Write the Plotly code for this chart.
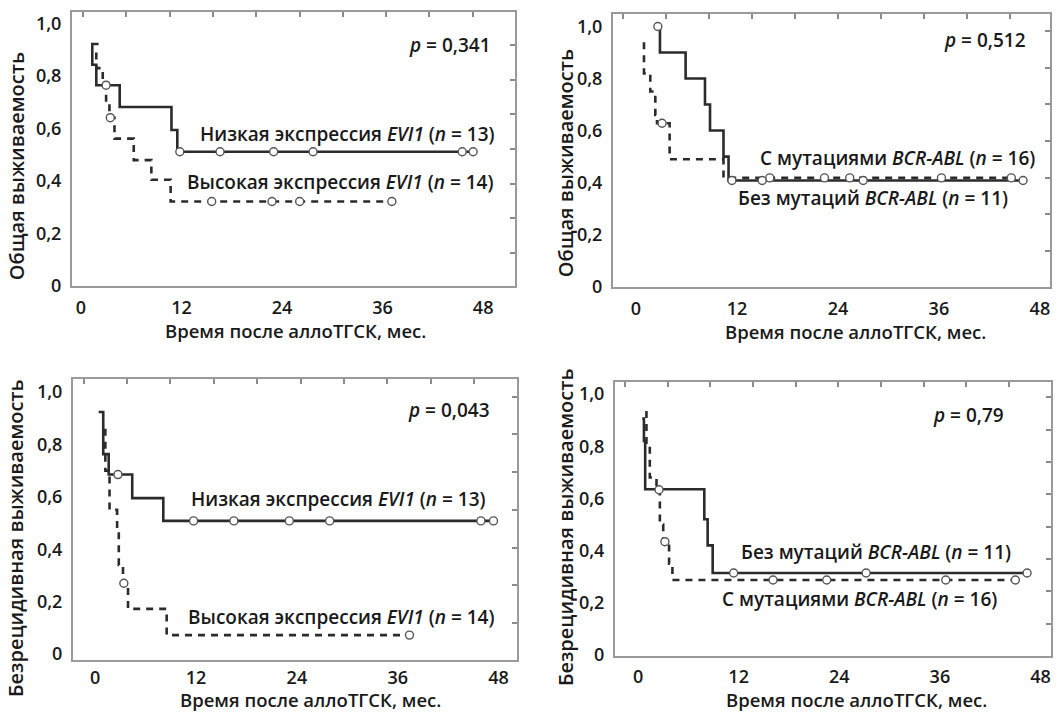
import plotly.graph_objects as go

W, H = 1059, 721

# ---------------- data (months, survival probability) ----------------
# Panel A: overall survival, EVI1 expression
a_low_x = [2.1, 1.35, 1.35, 1.83, 1.83, 4.62, 4.62, 10.8, 10.8, 11.5, 11.5, 46.8]
a_low_y = [0.922, 0.922, 0.843, 0.843, 0.765, 0.765, 0.682, 0.682, 0.594, 0.594, 0.511, 0.511]
a_low_cx = [11.8, 16.6, 23.0, 27.7, 45.5, 46.8]
a_low_cy = [0.511, 0.511, 0.511, 0.511, 0.511, 0.511]
a_high_x = [1.83, 1.83, 2.6, 2.6, 3.0, 3.0, 3.4, 3.4, 4.0, 4.0, 6.3, 6.3, 8.4, 8.4, 10.7, 10.7, 37.1]
a_high_y = [0.89, 0.83, 0.83, 0.765, 0.765, 0.70, 0.70, 0.641, 0.641, 0.561, 0.561, 0.479, 0.479, 0.404, 0.404, 0.321, 0.321]
a_high_cx = [3.0, 3.5, 15.6, 22.8, 26.1, 37.1]
a_high_cy = [0.765, 0.641, 0.321, 0.321, 0.321, 0.321]

# Panel B: overall survival, BCR-ABL mutations
b_wo_x = [2.6, 2.85, 2.85, 5.9, 5.9, 8.2, 8.2, 8.8, 8.8, 10.4, 10.4, 11.0, 11.0, 46.0]
b_wo_y = [1.0, 1.0, 0.9, 0.9, 0.8, 0.8, 0.7, 0.7, 0.6, 0.6, 0.5, 0.5, 0.408, 0.408]
b_wo_cx = [2.6, 11.4, 15.0, 27.0, 46.0]
b_wo_cy = [1.0, 0.408, 0.408, 0.408, 0.408]
b_mut_x = [0.95, 0.95, 1.7, 1.7, 2.3, 2.3, 2.5, 2.5, 4.0, 4.0, 10.4, 10.4, 44.6]
b_mut_y = [0.94, 0.82, 0.82, 0.75, 0.75, 0.66, 0.66, 0.628, 0.628, 0.49, 0.49, 0.418, 0.418]
b_mut_cx = [3.1, 15.9, 22.4, 25.4, 36.3, 44.6]
b_mut_cy = [0.628, 0.418, 0.418, 0.418, 0.418, 0.418]

# Panel C: relapse-free survival, EVI1 expression
c_low_x = [0.4, 0.95, 0.95, 1.6, 1.6, 4.4, 4.4, 8.1, 8.1, 47.4]
c_low_y = [0.924, 0.924, 0.763, 0.763, 0.685, 0.685, 0.595, 0.595, 0.508, 0.508]
c_low_cx = [2.7, 11.7, 16.5, 23.1, 27.9, 45.9, 47.4]
c_low_cy = [0.685, 0.508, 0.508, 0.508, 0.508, 0.508, 0.508]
c_high_x = [1.2, 1.2, 1.7, 1.7, 2.6, 2.6, 2.8, 2.8, 3.3, 3.3, 3.9, 3.9, 8.5, 8.5, 37.4]
c_high_y = [0.86, 0.70, 0.70, 0.55, 0.55, 0.46, 0.46, 0.34, 0.34, 0.27, 0.27, 0.172, 0.172, 0.072, 0.072]
c_high_cx = [3.4, 37.4]
c_high_cy = [0.27, 0.072]

# Panel D: relapse-free survival, BCR-ABL mutations
d_wo_x = [0.5, 0.7, 0.7, 0.85, 0.85, 7.9, 7.9, 8.3, 8.3, 8.9, 8.9, 46.4]
d_wo_y = [0.906, 0.906, 0.82, 0.82, 0.635, 0.635, 0.52, 0.52, 0.42, 0.42, 0.314, 0.314]
d_wo_cx = [11.4, 27.2, 46.4]
d_wo_cy = [0.314, 0.314, 0.314]
d_mut_x = [1.0, 1.0, 1.4, 1.4, 2.2, 2.2, 2.6, 2.6, 3.0, 3.0, 3.7, 3.7, 4.1, 4.1, 45.0]
d_mut_y = [0.935, 0.80, 0.80, 0.68, 0.68, 0.633, 0.633, 0.50, 0.50, 0.434, 0.434, 0.35, 0.35, 0.287, 0.287]
d_mut_cx = [2.5, 3.2, 16.1, 22.5, 36.7, 45.0]
d_mut_cy = [0.633, 0.434, 0.287, 0.287, 0.287, 0.287]

x_ticks = [0, 12, 24, 36, 48]
y_ticks = [0, 0.2, 0.4, 0.6, 0.8, 1.0]
y_ticktext = ["0", "0,2", "0,4", "0,6", "0,8", "1,0"]

x_title = "Время после аллоТГСК, мес."
y_title_os = "Общая выживаемость"
y_title_rfs = "Безрецидивная выживаемость"

p_values = ["0,341", "0,512", "0,043", "0,79"]
labels = [
    ("Низкая экспрессия <i>EVI1</i> (<i>n</i> = 13)", "Высокая экспрессия <i>EVI1</i> (<i>n</i> = 14)"),
    ("С мутациями <i>BCR-ABL</i> (<i>n</i> = 16)", "Без мутаций <i>BCR-ABL</i> (<i>n</i> = 11)"),
    ("Низкая экспрессия <i>EVI1</i> (<i>n</i> = 13)", "Высокая экспрессия <i>EVI1</i> (<i>n</i> = 14)"),
    ("Без мутаций <i>BCR-ABL</i> (<i>n</i> = 11)", "С мутациями <i>BCR-ABL</i> (<i>n</i> = 16)"),
]

# ---------------- layout geometry (pixels) ----------------
FAM = "Open Sans"
TXT_C = "#1a1a1a"
FONT_TICK = dict(family=FAM, size=18, color=TXT_C, weight=600)
FONT_ANN = dict(family=FAM, size=19, color=TXT_C, weight=600)
FONT_XT = dict(family=FAM, size=18.5, color=TXT_C, weight=600)
FONT_YT = dict(family=FAM, size=20, color=TXT_C, weight=600)
LINE_C = "#2b2b2b"
BOX_C = "#9a9a9a"

panels = [
    dict(box=(72, 515, 11, 290), xr=[-1.07, 51.8], yr=[-0.002, 1.045],
         topr=[-0.254, 9.977], rightr=[-0.966, 6.96], xstand=4,
         solid=(a_low_x, a_low_y, a_low_cx, a_low_cy),
         dashed=(a_high_x, a_high_y, a_high_cx, a_high_cy),
         ann=[(49.2, 0.918), (49.7, 0.578), (49.4, 0.396)],
         ytitle=y_title_os, ytpos=(16, 168), xtpos=(295, 335)),
    dict(box=(613, 1050, 13, 291), xr=[-2.73, 49.2], yr=[-0.002, 1.049],
         topr=[-0.233, 9.93], rightr=[-0.99, 6.47], xstand=4,
         solid=(b_wo_x, b_wo_y, b_wo_cx, b_wo_cy),
         dashed=(b_mut_x, b_mut_y, b_mut_cx, b_mut_cy),
         ann=[(46.6, 0.947), (47.6, 0.496), (44.4, 0.339)],
         ytitle=y_title_os, ytpos=(565, 165), xtpos=(855, 336)),
    dict(box=(73, 517, 384, 670), xr=[-2.65, 50.2], yr=[-0.0226, 1.0515],
         topr=[-0.245, 9.99], rightr=[-0.973, 6.48], xstand=1,
         solid=(c_low_x, c_low_y, c_low_cx, c_low_cy),
         dashed=(c_high_x, c_high_y, c_high_cx, c_high_cy),
         ann=[(47.2, 0.930), (46.75, 0.591), (47.7, 0.140)],
         ytitle=y_title_rfs, ytpos=(16, 546), xtpos=(310, 710)),
    dict(box=(615, 1051, 387, 666), xr=[-2.75, 49.25], yr=[-0.004, 1.048],
         topr=[-0.235, 9.98], rightr=[-0.995, 7.49], xstand=3,
         solid=(d_wo_x, d_wo_y, d_wo_cx, d_wo_cy),
         dashed=(d_mut_x, d_mut_y, d_mut_cx, d_mut_cy),
         ann=[(43.9, 0.918), (44.7, 0.396), (43.0, 0.214)],
         ytitle=y_title_rfs, ytpos=(565, 535), xtpos=(856, 710)),
]

fig = go.Figure()
layout = dict(width=W, height=H, margin=dict(l=0, r=0, t=0, b=0),
              paper_bgcolor="white", plot_bgcolor="white", showlegend=False,
              font=FONT_ANN, annotations=[])

marker_style = dict(symbol="circle", size=8, color="white",
                    line=dict(color="#555555", width=1.4))

for i, p in enumerate(panels):
    n = i + 1
    no = i + 5
    xl, xr_, yt, yb = p["box"]
    xdom = [xl / W, xr_ / W]
    ydom = [1 - yb / H, 1 - yt / H]
    xa, ya = f"x{n}", f"y{n}"
    xo, yo = f"x{no}", f"y{no}"

    layout[f"xaxis{n}"] = dict(domain=xdom, range=p["xr"], anchor=ya,
                               tickmode="array", tickvals=x_ticks,
                               ticktext=[str(v) for v in x_ticks],
                               ticks="", showgrid=False, zeroline=False,
                               showline=True, mirror=True, linecolor=BOX_C,
                               linewidth=2, ticklabelstandoff=p["xstand"],
                               tickfont=FONT_TICK)
    layout[f"yaxis{n}"] = dict(domain=ydom, range=p["yr"], anchor=xa,
                               tickmode="array", tickvals=y_ticks,
                               ticktext=y_ticktext, ticks="", showgrid=False,
                               zeroline=False, showline=True, mirror=True,
                               linecolor=BOX_C, linewidth=2,
                               ticklabelstandoff=5, tickfont=FONT_TICK)
    # decorative inner tick marks on the top and right edges
    layout[f"xaxis{no}"] = dict(domain=xdom, range=p["topr"], anchor=yo,
                                overlaying=xa, side="top", tickmode="linear",
                                tick0=0, dtick=1, ticks="inside", ticklen=5,
                                tickwidth=1.5, tickcolor="#8a8a8a",
                                showticklabels=False, showgrid=False,
                                zeroline=False, showline=False)
    layout[f"yaxis{no}"] = dict(domain=ydom, range=p["rightr"], anchor=xo,
                                overlaying=ya, side="right", tickmode="linear",
                                tick0=0, dtick=1, ticks="inside", ticklen=5,
                                tickwidth=1.5, tickcolor="#8a8a8a",
                                showticklabels=False, showgrid=False,
                                zeroline=False, showline=False)
    fig.add_trace(go.Scatter(x=[None], y=[None], xaxis=xo, yaxis=yo,
                             mode="markers", hoverinfo="skip"))

    sx, sy, scx, scy = p["solid"]
    dx, dy, dcx, dcy = p["dashed"]
    fig.add_trace(go.Scatter(x=dx, y=dy, xaxis=xa, yaxis=ya, mode="lines",
                             line=dict(color=LINE_C, width=2.6, dash="7px,6px"),
                             hoverinfo="skip"))
    fig.add_trace(go.Scatter(x=sx, y=sy, xaxis=xa, yaxis=ya, mode="lines",
                             line=dict(color=LINE_C, width=2.6),
                             hoverinfo="skip"))
    fig.add_trace(go.Scatter(x=dcx, y=dcy, xaxis=xa, yaxis=ya, mode="markers",
                             marker=marker_style, hoverinfo="skip"))
    fig.add_trace(go.Scatter(x=scx, y=scy, xaxis=xa, yaxis=ya, mode="markers",
                             marker=marker_style, hoverinfo="skip"))

    (px_, py_), (l1x, l1y), (l2x, l2y) = p["ann"]
    layout["annotations"].append(dict(
        x=px_, y=py_, xref=xa, yref=ya, xanchor="right", yanchor="middle",
        text=f"<i>p</i> = {p_values[i]}", showarrow=False, font=FONT_ANN))
    layout["annotations"].append(dict(
        x=l1x, y=l1y, xref=xa, yref=ya, xanchor="right", yanchor="middle",
        text=labels[i][0], showarrow=False, font=FONT_ANN))
    layout["annotations"].append(dict(
        x=l2x, y=l2y, xref=xa, yref=ya, xanchor="right", yanchor="middle",
        text=labels[i][1], showarrow=False, font=FONT_ANN))
    # axis titles
    tx, ty = p["ytpos"]
    layout["annotations"].append(dict(
        x=tx / W, y=1 - ty / H, xref="paper", yref="paper", xanchor="center",
        yanchor="middle", text=p["ytitle"], textangle=-90, showarrow=False,
        font=FONT_YT))
    tx, ty = p["xtpos"]
    layout["annotations"].append(dict(
        x=tx / W, y=1 - ty / H, xref="paper", yref="paper", xanchor="center",
        yanchor="middle", text=x_title, showarrow=False, font=FONT_XT))

fig.update_layout(**layout)
fig.write_html("out.html", config={"displayModeBar": False},
               post_script="document.body.style.margin='0';"
                           "document.body.style.overflow='hidden';")
